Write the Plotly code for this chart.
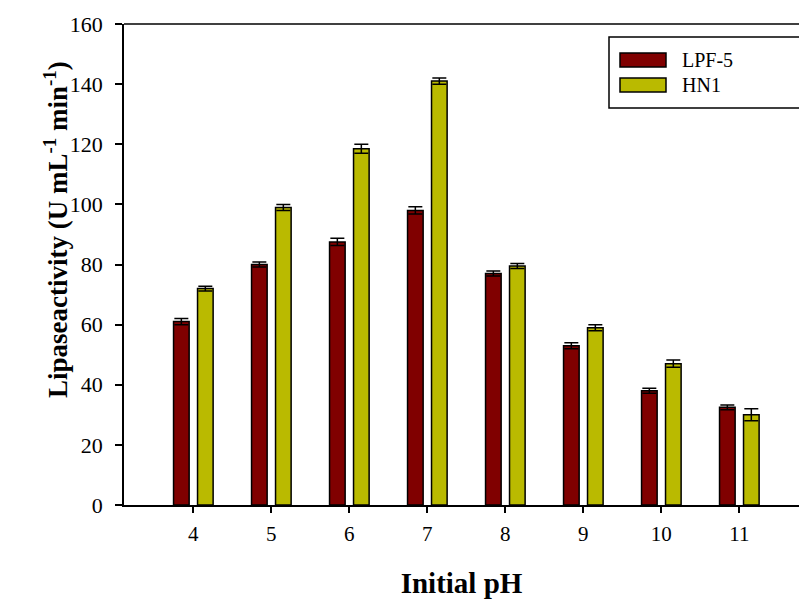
import plotly.graph_objects as go

ph = [4, 5, 6, 7, 8, 9, 10, 11]
lpf5 = [61, 80, 87.5, 98, 77, 53, 38, 32.5]
lpf5_err = [1, 0.8, 1.2, 1.2, 0.8, 1, 0.8, 0.8]
hn1 = [72, 99, 118.5, 141, 79.5, 59, 47, 30]
hn1_err = [0.8, 1, 1.5, 1, 0.8, 1, 1.2, 2]
tick_vals = [0, 20, 40, 60, 80, 100, 120, 140, 160]
series_names = ["LPF-5", "HN1"]
series_colors = ["#800000", "#BABA00"]

W, H = 799, 599
L, R, T, B = 124, 0, 24, 94
pw = W - L - R
ph_px = H - T - B

def px_x(x):
    return (x - L) / pw

def px_y(y):
    return (H - B - y) / ph_px

font = "Liberation Serif, Times New Roman, serif"

fig = go.Figure()
for name, vals, errs, col in [(series_names[0], lpf5, lpf5_err, series_colors[0]),
                              (series_names[1], hn1, hn1_err, series_colors[1])]:
    fig.add_trace(go.Bar(
        x=ph, y=vals, name=name, showlegend=False,
        marker=dict(color=col, line=dict(color="black", width=1.5)),
        error_y=dict(type="data", array=errs, color="black", thickness=1.5, width=7),
    ))

# legend drawn as shapes + text to match the large swatches of the reference
shapes = [
    dict(type="line", xref="paper", yref="paper", x0=0, x1=1.02, y0=1, y1=1,
         line=dict(color="black", width=1.5)),
    dict(type="rect", xref="paper", yref="paper",
         x0=px_x(609), x1=px_x(812), y0=px_y(108), y1=px_y(37),
         line=dict(color="black", width=1.5)),
]
annotations = [
    dict(text="<b>Lipaseactivity (U mL<sup>-1</sup> min<sup>-1</sup>)</b>",
         xref="paper", yref="paper", x=px_x(37), y=px_y(230),
         textangle=-90, showarrow=False,
         font=dict(family=font, size=27, color="black")),
]
for i, (name, col) in enumerate(zip(series_names, series_colors)):
    yc = 60 + 25 * i
    shapes.append(dict(type="rect", xref="paper", yref="paper",
                       x0=px_x(620), x1=px_x(666), y0=px_y(yc + 7), y1=px_y(yc - 7),
                       fillcolor=col, line=dict(color="black", width=1.5)))
    annotations.append(dict(text=name, xref="paper", yref="paper",
                            x=px_x(680), y=px_y(yc), xanchor="left", yanchor="middle",
                            showarrow=False,
                            font=dict(family=font, size=20, color="black")))

fig.update_layout(
    width=W, height=H,
    margin=dict(l=L, r=R, t=T, b=B, pad=0),
    paper_bgcolor="white", plot_bgcolor="white",
    barmode="group", bargap=0.385, bargroupgap=0.35,
    font=dict(family=font, color="black"),
    showlegend=False,
    xaxis=dict(
        range=[3.111, 11.765], tickmode="array", tickvals=ph,
        ticktext=[str(v) for v in ph],
        showline=True, linecolor="black", linewidth=1.5,
        ticks="outside", ticklen=6, tickwidth=1.5, tickcolor="black",
        showgrid=False, zeroline=False,
        tickfont=dict(family=font, size=21, color="black"),
        ticklabelstandoff=3,
        title=dict(text="<b>Initial pH</b>", font=dict(family=font, size=29, color="black"), standoff=30),
    ),
    yaxis=dict(
        range=[0, 160], tickmode="array", tickvals=tick_vals,
        showline=True, linecolor="black", linewidth=1.5,
        ticks="outside", ticklen=7, tickwidth=1.5, tickcolor="black",
        showgrid=False, zeroline=False,
        tickfont=dict(family=font, size=22, color="black"),
        ticklabelstandoff=8,
    ),
    shapes=shapes,
    annotations=annotations,
)

fig.write_html("out.html", config={"displayModeBar": False},
               post_script="document.body.style.margin='0';document.body.style.padding='0';")
